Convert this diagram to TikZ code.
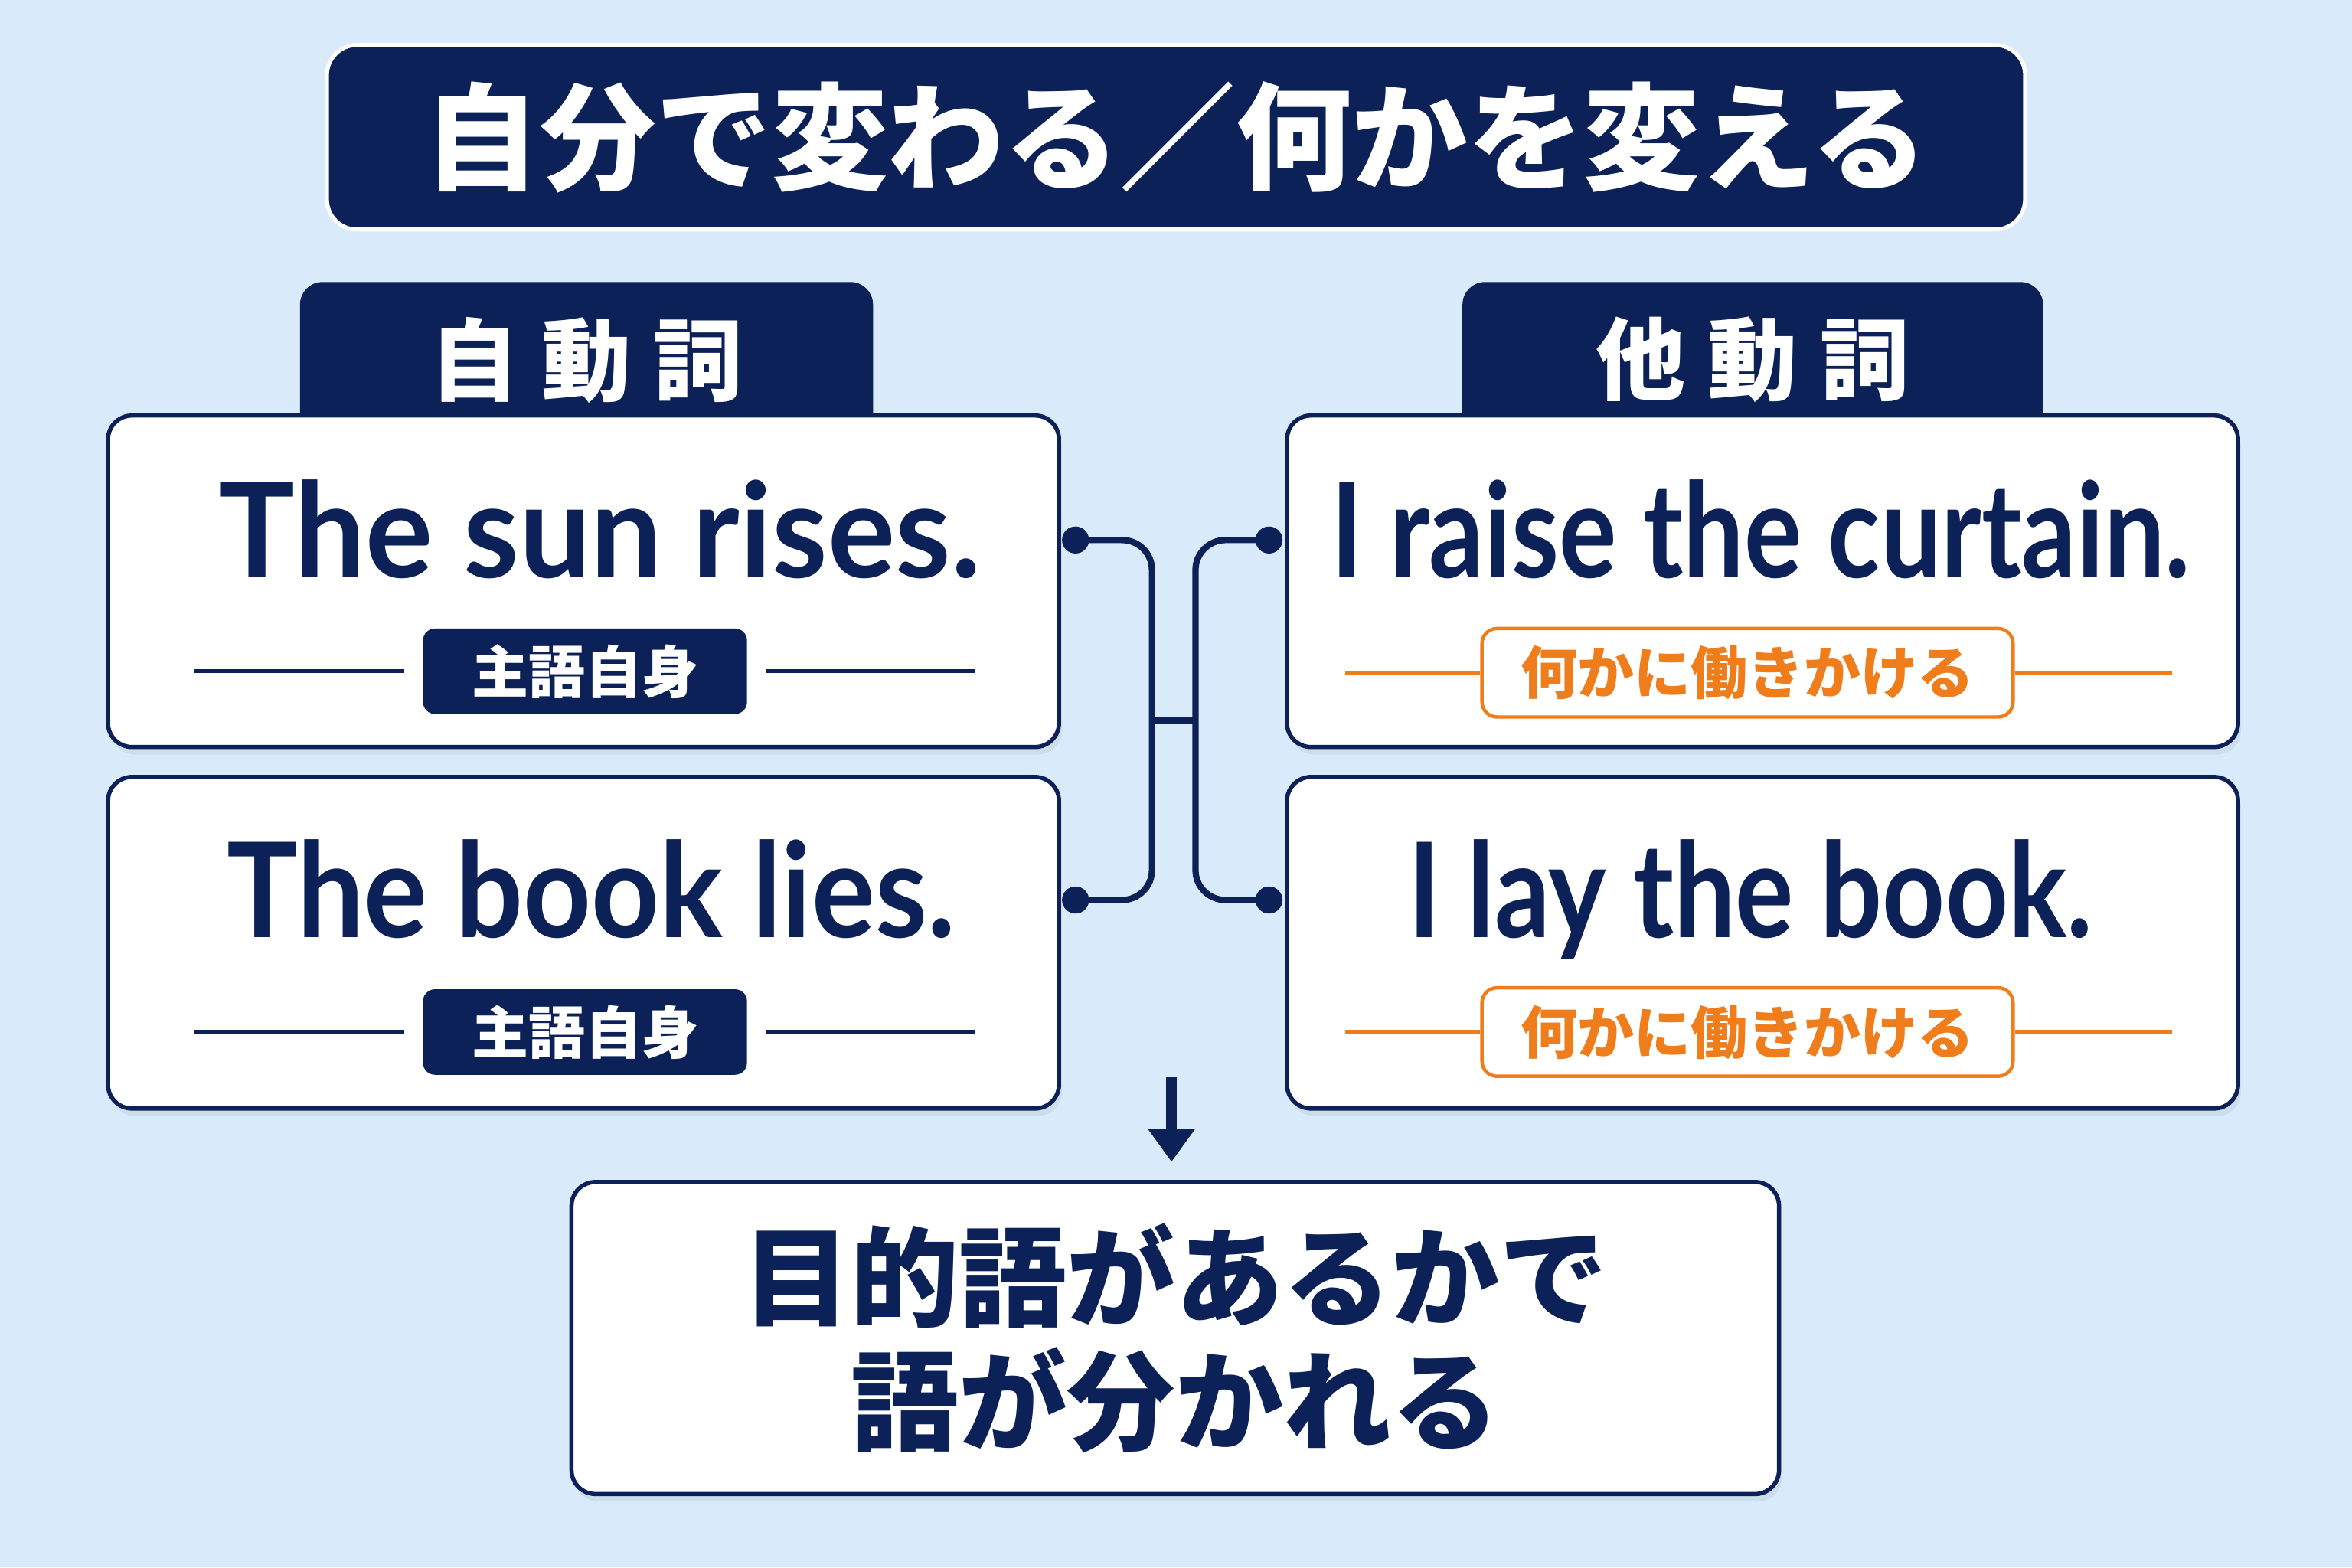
\documentclass[tikz,border=0pt]{standalone}
\usepackage{fontspec}
\usepackage{graphicx}
\newfontfamily\jp{Noto Sans CJK JP}
\newfontfamily\en{Lato}
\usetikzlibrary{arrows.meta,shadows}
\definecolor{navy}{HTML}{0B2157}
\definecolor{bg}{HTML}{D9EAFB}
\definecolor{orng}{HTML}{F07D1C}
\tikzset{
  card/.style={draw=navy, line width=1.6pt, fill=white, rounded corners=0.32cm,
    minimum width=12.68cm, minimum height=4.42cm,
    drop shadow={opacity=0.12, shadow xshift=0.04cm, shadow yshift=-0.1cm}},
  headbox/.style={fill=navy, draw=white, line width=1.5pt, rounded corners=0.4cm,
    minimum width=22.64cm, minimum height=2.46cm, text=white,
    font=\jp\bfseries\fontsize{44}{50}\selectfont},
  tab/.style={fill=navy, rounded corners=0.3cm, minimum width=7.64cm,
    minimum height=2.08cm, text=white, font=\jp\bfseries\fontsize{34}{40}\selectfont},
  sent/.style={anchor=base, text=navy, inner sep=0pt,
    font=\en\bfseries\fontsize{50}{60}\selectfont},
  self/.style={fill=navy, rounded corners=0.16cm, minimum width=4.32cm,
    minimum height=1.14cm, inner sep=0pt, text=white,
    font=\jp\bfseries\fontsize{21.5}{24}\selectfont},
  other/.style={draw=orng, line width=1.3pt, fill=white, rounded corners=0.2cm,
    minimum width=7.08cm, minimum height=1.18cm, inner sep=0pt, text=orng,
    font=\jp\bfseries\fontsize{21.5}{24}\selectfont},
  rule/.style={line width=1.5pt},
  conn/.style={navy, line width=2.4pt, rounded corners=0.4cm},
}
\begin{document}
\begin{tikzpicture}[x=0.2mm, y=-0.2mm]
\fill[bg] (0,0) rectangle (1568,1045);
\useasboundingbox (0,0) rectangle (1568,1045);
\node[headbox] (title) at (784,91.5) {自分で変わる／何かを変える};
\node[tab] (tabL) at (391,240) {自\hspace{0.25em}動\hspace{0.25em}詞};
\node[tab, minimum width=7.74cm] (tabR) at (1168.5,240) {他\hspace{0.25em}動\hspace{0.25em}詞};
\node[card] (bL1) at (389,387.5) {};
\node[card] (bL2) at (389,628.5) {};
\node[card] (bR1) at (1175,387.5) {};
\node[card] (bR2) at (1175,628.5) {};
\node[sent] (s1) at (400,385) {\scalebox{0.96}[1]{The sun rises.}};
\node[sent] (s2) at (394,625) {\scalebox{0.9}[1]{The book lies.}};
\node[sent] (s3) at (1174,385) {\scalebox{0.82}[1]{I raise the curtain.}};
\node[sent] (s4) at (1167,625) {\scalebox{0.83}[1]{I lay the book.}};
\node[self] (l1) at (390,447.5) {主語自身};
\node[self] (l2) at (390,688) {主語自身};
\node[other] (l3) at (1165,448.5) {何かに働きかける};
\node[other] (l4) at (1165,688) {何かに働きかける};
\draw[rule, navy] ([xshift=-0.24cm]l1.west) -- ++(-140,0);
\draw[rule, navy] ([xshift=0.24cm]l1.east) -- ++(140,0);
\draw[rule, navy] ([xshift=-0.24cm]l2.west) -- ++(-140,0);
\draw[rule, navy] ([xshift=0.24cm]l2.east) -- ++(140,0);
\draw[rule, orng] (l3.west) -- ++(-90,0);
\draw[rule, orng] (l3.east) -- ++(105,0);
\draw[rule, orng] (l4.west) -- ++(-90,0);
\draw[rule, orng] (l4.east) -- ++(105,0);
\coordinate (d1) at (717,360);
\coordinate (d2) at (717,600);
\coordinate (d3) at (846,360);
\coordinate (d4) at (846,600);
\coordinate (jL) at (768,480);
\coordinate (jR) at (797,480);
\draw[conn] (d1) -| (jL) |- (d2);
\draw[conn] (d3) -| (jR) |- (d4);
\draw[conn] (jL) -- (jR);
\fill[navy] (d1) circle (0.18cm);
\fill[navy] (d2) circle (0.18cm);
\fill[navy] (d3) circle (0.18cm);
\fill[navy] (d4) circle (0.18cm);
\node[card, minimum width=16.1cm, minimum height=4.16cm, text=navy, align=center,
  font=\jp\bfseries\fontsize{41}{47}\selectfont] (res) at (783.5,892)
  {目的語があるかで\\語が分かれる};
\coordinate (a1) at (781,718);
\draw[navy, line width=4pt, -{Triangle[length=0.44cm,width=0.6cm]}] (a1) -- ([yshift=0.24cm]res.north -| a1);
\end{tikzpicture}
\end{document}
